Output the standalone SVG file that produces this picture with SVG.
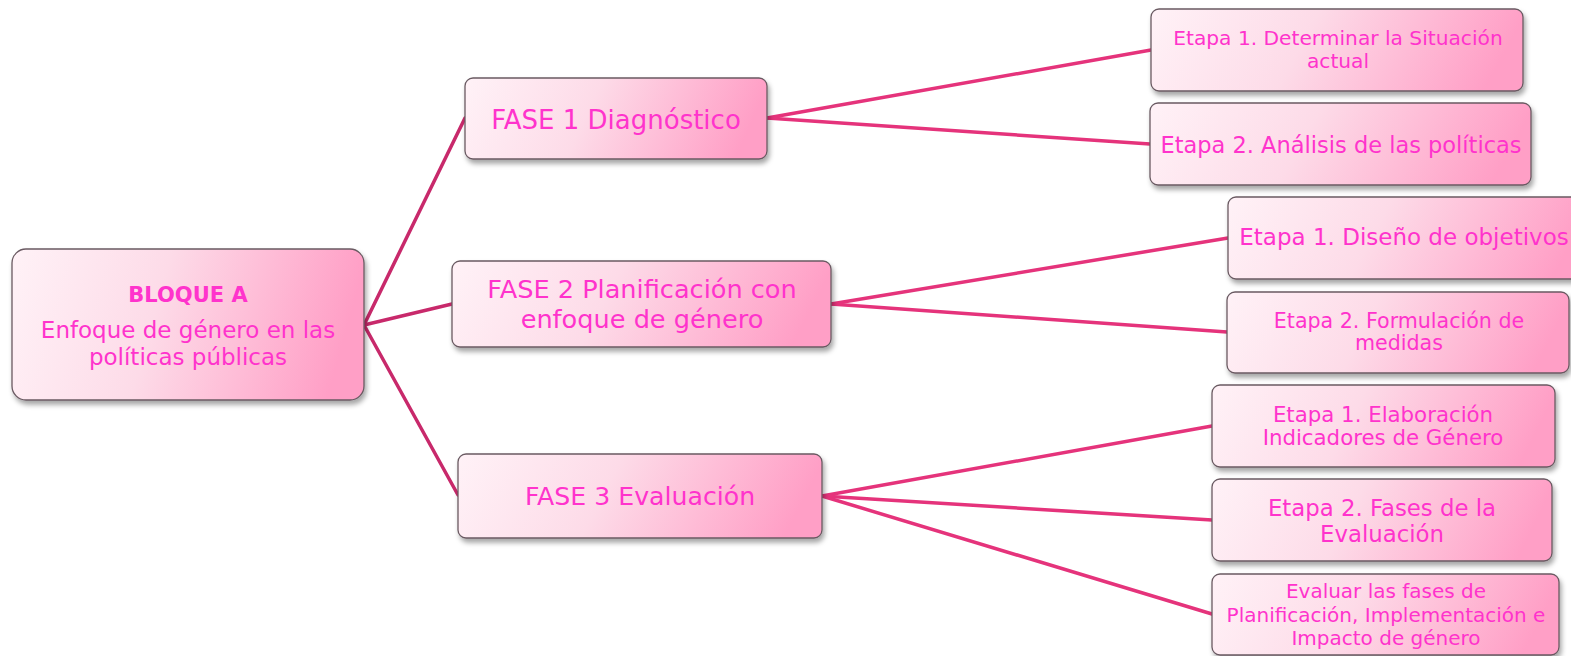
<svg xmlns="http://www.w3.org/2000/svg" width="1571" height="656" viewBox="0 0 1571 656">
<defs>
<linearGradient id="fill" x1="0" y1="0" x2="1" y2="0.12">
<stop offset="0" stop-color="#fff2f7"/>
<stop offset="0.45" stop-color="#fddbe8"/>
<stop offset="1" stop-color="#ff9fc6"/>
</linearGradient>
<filter id="sh" x="-10%" y="-20%" width="125%" height="150%">
<feDropShadow dx="2" dy="4" stdDeviation="2.5" flood-color="#000" flood-opacity="0.35"/>
</filter>
</defs>
<style>
.box{fill:url(#fill);stroke:#6a5a62;stroke-width:1.3;filter:url(#sh)}
.t{font-family:"DejaVu Sans","Liberation Sans",sans-serif;fill:#ff33cc;text-anchor:middle}
.c1{stroke:#c8296b;stroke-width:3.5;fill:none;stroke-linecap:round}
.c2{stroke:#e5337b;stroke-width:3.5;fill:none;stroke-linecap:round}
</style>
<rect width="1571" height="656" fill="#fff"/>
<g id="connectors">
<line class="c1" x1="364" y1="325" x2="465" y2="118"/>
<line class="c1" x1="364" y1="325" x2="452" y2="304"/>
<line class="c1" x1="364" y1="325" x2="458" y2="495"/>
<line class="c2" x1="767" y1="118" x2="1151" y2="50"/>
<line class="c2" x1="767" y1="118" x2="1150" y2="144"/>
<line class="c2" x1="831" y1="304" x2="1228" y2="238"/>
<line class="c2" x1="831" y1="304" x2="1227" y2="332"/>
<line class="c2" x1="822" y1="496" x2="1212" y2="426"/>
<line class="c2" x1="822" y1="496" x2="1212" y2="520"/>
<line class="c2" x1="822" y1="496" x2="1212" y2="614"/>
</g>
<g id="root">
<rect class="box" x="12" y="249" width="352" height="151" rx="14"/>
<text class="t" x="188" y="302" font-size="21" font-weight="bold">BLOQUE A</text>
<text class="t" x="188" y="338" font-size="23">Enfoque de género en las</text>
<text class="t" x="188" y="365" font-size="23">políticas públicas</text>
</g>
<g id="fase1">
<rect class="box" x="465" y="78" width="302" height="81" rx="8"/>
<text class="t" x="616" y="129" font-size="26">FASE 1 Diagnóstico</text>
</g>
<g id="fase2">
<rect class="box" x="452" y="261" width="379" height="86" rx="8"/>
<text class="t" x="642" y="298" font-size="25.6">FASE 2 Planificación con</text>
<text class="t" x="642" y="328" font-size="25.6">enfoque de género</text>
</g>
<g id="fase3">
<rect class="box" x="458" y="454" width="364" height="84" rx="8"/>
<text class="t" x="640" y="505" font-size="25.2">FASE 3 Evaluación</text>
</g>
<g id="etapa1-diag">
<rect class="box" x="1151" y="9" width="372" height="82" rx="8"/>
<text class="t" x="1338" y="45" font-size="20.2">Etapa 1. Determinar la Situación</text>
<text class="t" x="1338" y="68" font-size="20.2">actual</text>
</g>
<g id="etapa2-diag">
<rect class="box" x="1150" y="103" width="381" height="82" rx="8"/>
<text class="t" x="1341" y="153" font-size="22.5">Etapa 2. Análisis de las políticas</text>
</g>
<g id="etapa1-plan">
<rect class="box" x="1228" y="197" width="362" height="82" rx="8"/>
<text class="t" x="1404" y="245" font-size="23">Etapa 1. Diseño de objetivos</text>
</g>
<g id="etapa2-plan">
<rect class="box" x="1227" y="292" width="342" height="81" rx="8"/>
<text class="t" x="1399" y="328" font-size="20.6">Etapa 2. Formulación de</text>
<text class="t" x="1399" y="350" font-size="20.6">medidas</text>
</g>
<g id="etapa1-eval">
<rect class="box" x="1212" y="385" width="343" height="82" rx="8"/>
<text class="t" x="1383" y="422" font-size="21.3">Etapa 1. Elaboración</text>
<text class="t" x="1383" y="445" font-size="21.3">Indicadores de Género</text>
</g>
<g id="etapa2-eval">
<rect class="box" x="1212" y="479" width="340" height="82" rx="8"/>
<text class="t" x="1382" y="516" font-size="22.8">Etapa 2. Fases de la</text>
<text class="t" x="1382" y="542" font-size="22.8">Evaluación</text>
</g>
<g id="evaluar-fases">
<rect class="box" x="1212" y="574" width="347" height="81" rx="8"/>
<text class="t" x="1386" y="598" font-size="20">Evaluar las fases de</text>
<text class="t" x="1386" y="622" font-size="20">Planificación, Implementación e</text>
<text class="t" x="1386" y="645" font-size="20">Impacto de género</text>
</g>
</svg>
